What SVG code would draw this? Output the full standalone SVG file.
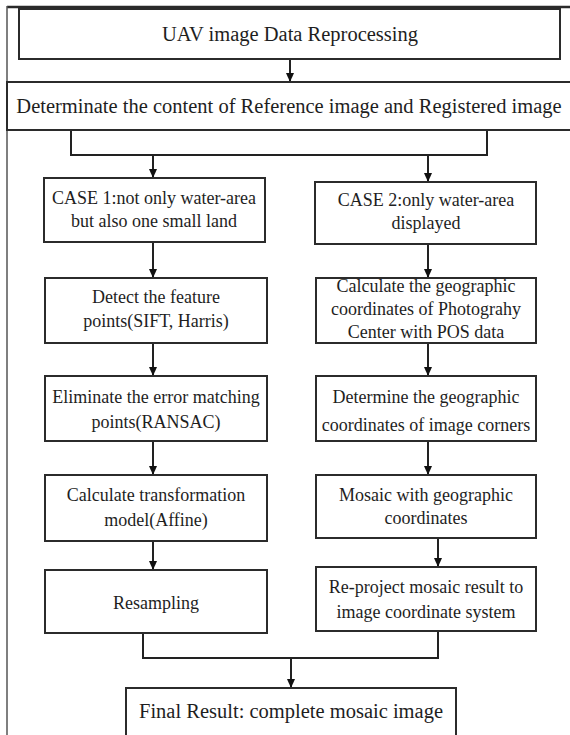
<svg xmlns="http://www.w3.org/2000/svg" width="570" height="735" viewBox="0 0 570 735">
<style>
.box{fill:#fff;stroke:#2b2b2b;stroke-width:2}
.t{font-family:"Liberation Serif","Times New Roman",serif;fill:#1e1e1e;text-anchor:middle}
.big{font-size:20.5px}
.s{font-size:18px}
.c{fill:none;stroke:#222;stroke-width:2}
</style>
<defs>
<marker id="ah" markerUnits="userSpaceOnUse" markerWidth="10" markerHeight="10" refX="9" refY="5" orient="auto">
<path d="M0,1 L9,5 L0,9 Z" fill="#111"/>
</marker>
</defs>
<rect width="570" height="735" fill="#fff"/>
<g id="frame">
<line x1="7" y1="7" x2="570" y2="7" stroke="#2a2a2a" stroke-width="2.5"/>
<line x1="7" y1="6" x2="7" y2="735" stroke="#555" stroke-width="1.5"/>
</g>
<g id="connectors">
<line class="c" x1="290" y1="59" x2="290" y2="82" marker-end="url(#ah)"/>
<polyline class="c" points="71,130 71,155 487,155 487,130"/>
<line class="c" x1="153" y1="155" x2="153" y2="178" marker-end="url(#ah)"/>
<line class="c" x1="428" y1="155" x2="428" y2="182" marker-end="url(#ah)"/>
<line class="c" x1="153" y1="242" x2="153" y2="278" marker-end="url(#ah)"/>
<line class="c" x1="153" y1="343" x2="153" y2="376" marker-end="url(#ah)"/>
<line class="c" x1="153" y1="441" x2="153" y2="475" marker-end="url(#ah)"/>
<line class="c" x1="153" y1="541" x2="153" y2="570" marker-end="url(#ah)"/>
<line class="c" x1="428" y1="244" x2="428" y2="278" marker-end="url(#ah)"/>
<line class="c" x1="428" y1="343" x2="428" y2="376" marker-end="url(#ah)"/>
<line class="c" x1="428" y1="441" x2="428" y2="475" marker-end="url(#ah)"/>
<line class="c" x1="438" y1="538" x2="438" y2="567" marker-end="url(#ah)"/>
<polyline class="c" points="143,633 143,658 438,658 438,631"/>
<line class="c" x1="291" y1="658" x2="291" y2="688" marker-end="url(#ah)"/>
</g>
<g id="n_uav">
<rect class="box" x="19" y="9" width="541" height="50"/>
<text class="t big" x="290" y="41">UAV image Data Reprocessing</text>
</g>
<g id="n_determinate">
<rect class="box" x="7" y="82" width="570" height="48"/>
<text class="t big" x="289" y="113">Determinate the content of Reference image and Registered image</text>
</g>
<g id="n_case1">
<rect class="box" x="44" y="178" width="221" height="64"/>
<text class="t s" x="154" y="204">CASE 1:not only water-area</text>
<text class="t s" x="154" y="227">but also one small land</text>
</g>
<g id="n_case2">
<rect class="box" x="315" y="182" width="221" height="62"/>
<text class="t s" x="426" y="206">CASE 2:only water-area</text>
<text class="t s" x="426" y="229">displayed</text>
</g>
<g id="n_detect">
<rect class="box" x="45" y="278" width="222" height="65"/>
<text class="t s" x="156" y="303">Detect the feature</text>
<text class="t s" x="156" y="327">points(SIFT, Harris)</text>
</g>
<g id="n_calcgeo">
<rect class="box" x="316" y="278" width="220" height="65"/>
<text class="t s" x="426" y="292">Calculate  the geographic</text>
<text class="t s" x="426" y="315">coordinates of Photograhy</text>
<text class="t s" x="426" y="338">Center with POS data</text>
</g>
<g id="n_eliminate">
<rect class="box" x="45" y="376" width="222" height="65"/>
<text class="t s" x="156" y="403">Eliminate the error matching</text>
<text class="t s" x="156" y="428">points(RANSAC)</text>
</g>
<g id="n_determine">
<rect class="box" x="316" y="376" width="220" height="65"/>
<text class="t s" x="426" y="403">Determine the geographic</text>
<text class="t s" x="426" y="431">coordinates of image corners</text>
</g>
<g id="n_transform">
<rect class="box" x="45" y="475" width="222" height="66"/>
<text class="t s" x="156" y="501">Calculate transformation</text>
<text class="t s" x="156" y="526">model(Affine)</text>
</g>
<g id="n_mosaic">
<rect class="box" x="316" y="475" width="220" height="63"/>
<text class="t s" x="426" y="501">Mosaic with geographic</text>
<text class="t s" x="426" y="524">coordinates</text>
</g>
<g id="n_resampling">
<rect class="box" x="45" y="570" width="222" height="63"/>
<text class="t s" x="156" y="609">Resampling</text>
</g>
<g id="n_reproject">
<rect class="box" x="316" y="567" width="220" height="64"/>
<text class="t s" x="426" y="593">Re-project  mosaic result to</text>
<text class="t s" x="426" y="618">image coordinate system</text>
</g>
<g id="n_final">
<rect class="box" x="126" y="688" width="330" height="60"/>
<text class="t big" x="291" y="718">Final Result: complete mosaic image</text>
</g>
</svg>
